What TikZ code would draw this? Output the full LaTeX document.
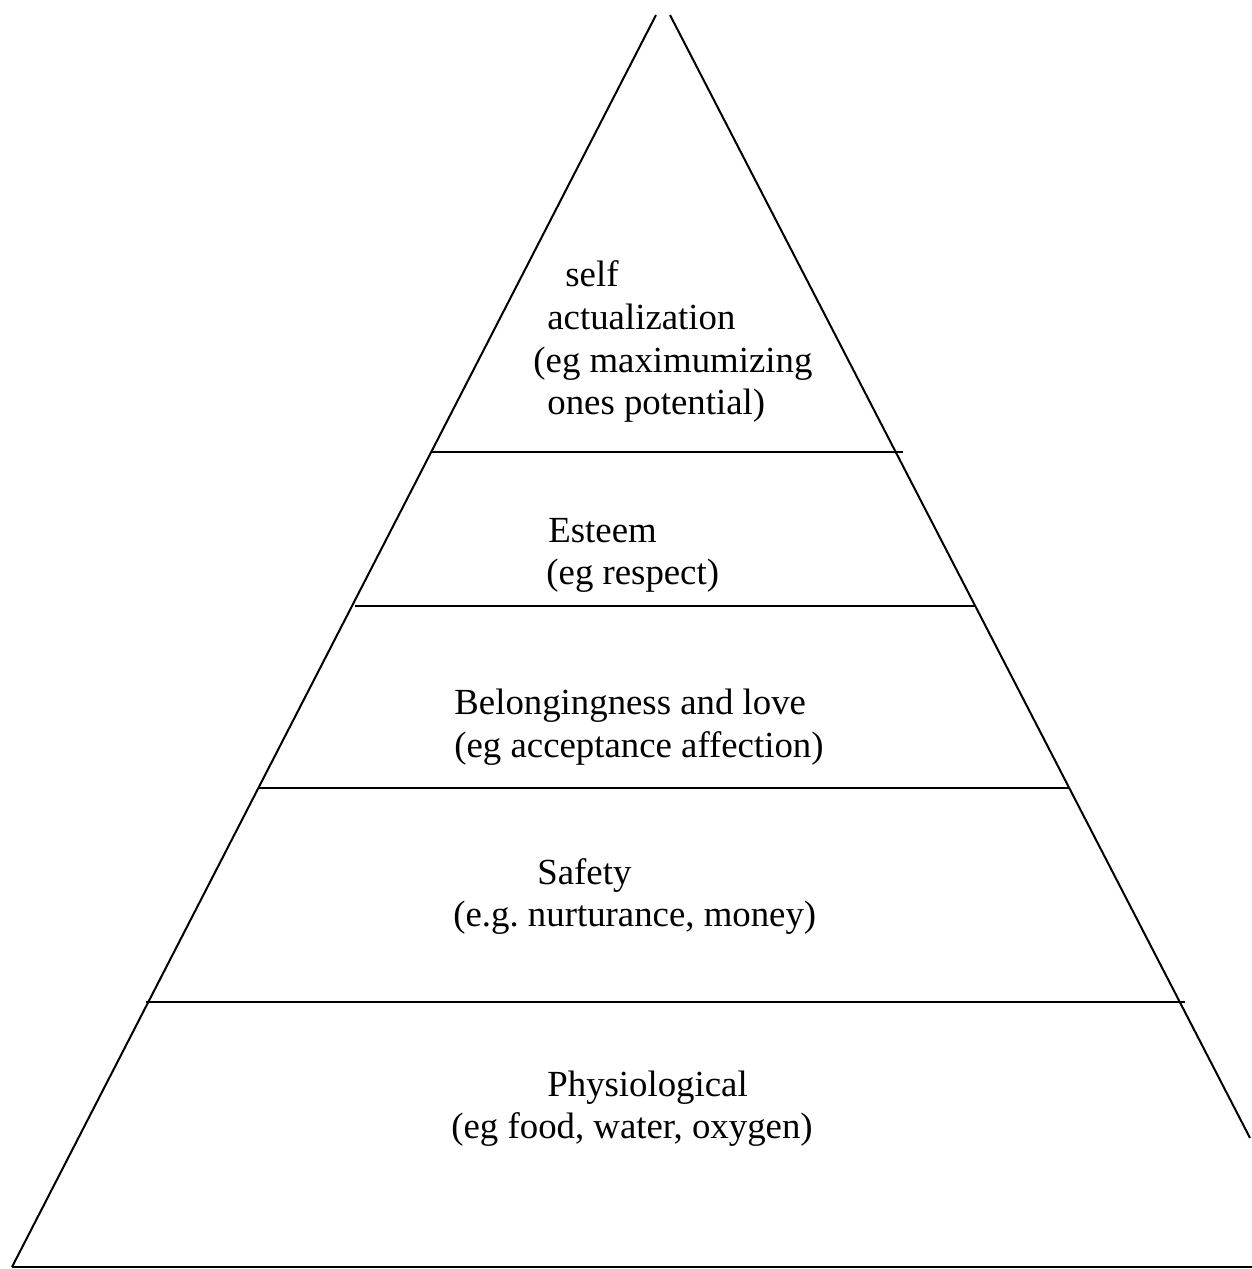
\documentclass[tikz,border=0pt]{standalone}
\usepackage{fontspec}
\setmainfont{Liberation Serif}
\usetikzlibrary{calc}
\frenchspacing
\begin{document}
\begin{tikzpicture}[x=0.5pt,y=-0.5pt,
  edge/.style={line width=1pt,black},
  lbl/.style={anchor=base west,inner sep=0pt,font=\fontsize{18.4}{22}\selectfont}]
\useasboundingbox (0,0) rectangle (1252,1269);
% pyramid sides
\coordinate (topL) at (656,15);
\coordinate (botL) at (12,1267);
\coordinate (topR) at (670,15);
\coordinate (endR) at (1250,1138);
\coordinate (botR) at (1252,1267);
\draw[edge] (topL) -- (botL);
\draw[edge] (topR) -- (endR);
\draw[edge] (botL) -- (botR);
% level lines
\coordinate (l1a) at (432,452);  \coordinate (l1b) at (903,452);
\coordinate (l2a) at (355,606);  \coordinate (l2b) at (976,606);
\coordinate (l3a) at (258,788);  \coordinate (l3b) at (1070,788);
\coordinate (l4a) at (146,1002); \coordinate (l4b) at (1185,1002);
\draw[edge] (l1a) -- (l1b);
\draw[edge] (l2a) -- (l2b);
\draw[edge] (l3a) -- (l3b);
\draw[edge] (l4a) -- (l4b);
% labels
\node[lbl] (t1) at (565,286) {self};
\node[lbl] (t2) at (547,329) {actualization};
\node[lbl] (t3) at (533,372) {(eg maximumizing};
\node[lbl] (t4) at (547,414) {ones potential)};
\node[lbl] (e1) at (548,542) {Esteem};
\node[lbl] (e2) at (546,584) {(eg respect)};
\node[lbl] (b1) at (454,714) {Belongingness and love};
\node[lbl] (b2) at (454,757) {(eg acceptance affection)};
\node[lbl] (s1) at (537,884) {Safety};
\node[lbl] (s2) at (453,926) {(e.g. nurturance, money)};
\node[lbl] (p1) at (547,1096) {Physiological};
\node[lbl] (p2) at (451,1138) {(eg food, water, oxygen)};
\end{tikzpicture}
\end{document}
